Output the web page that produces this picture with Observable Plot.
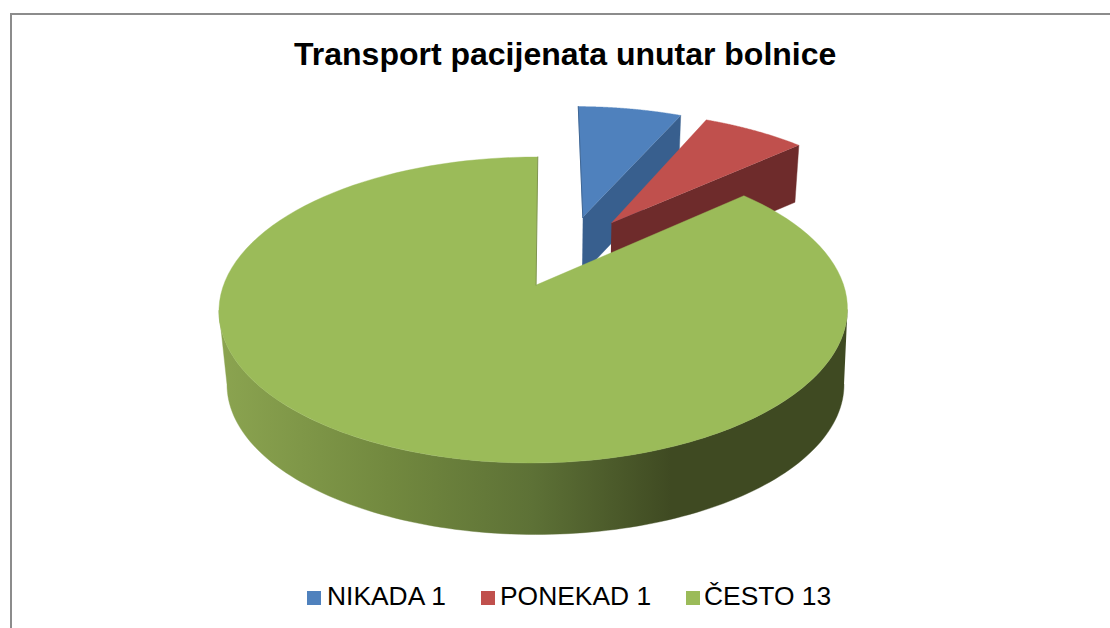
<!DOCTYPE html>
<html>
<head>
<meta charset="utf-8">
<script src="https://cdn.jsdelivr.net/npm/d3@7"></script>
<script src="https://cdn.jsdelivr.net/npm/@observablehq/plot@0.6"></script>
<style>
html,body{margin:0;padding:0;background:#fff;overflow:hidden}
#frame{position:absolute;left:10px;top:13px;width:1100px;height:615px;box-sizing:border-box;border-left:2px solid #8c8c8c;border-top:2px solid #8c8c8c;font-family:"Liberation Sans",Arial,sans-serif;color:#000}
#title{height:75px;box-sizing:border-box;padding-top:20px;padding-left:282px;font-size:32px;line-height:38px;font-weight:bold;white-space:nowrap}
#chart svg{display:block}
#legend{position:relative;height:50px;font-size:26.4px;line-height:30px;white-space:nowrap}
#legend span{position:absolute;top:6px}
#legend i{position:absolute;top:16px;width:14px;height:14px}
</style>
</head>
<body>
<div id="frame">
  <div id="title"></div>
  <div id="chart"></div>
  <div id="legend"></div>
</div>
<script>
const chartTitle = "Transport pacijenata unutar bolnice";
const categories = ["NIKADA", "PONEKAD", "ČESTO"];
const values = [1, 1, 13];
const topColors = ["#4f81bd", "#c0504d", "#9bbb59"];
const wallColors = ["#385f8e", "#6e2b2b"];
const legendSwatchX = [295, 469, 674];
const legendTextX = [315, 488, 692];

// camera of the 3-D pie
const cam = {x0: 535.5, y0: 284.5, R: 310, a: 148.9, s: 2, b: 0.163, d: 0.008, shrink: 0.015, depth: 57};
// lower rim of the large slice
const base = {cx: 535, cy: 384, rx: 308.5, ry: 150};
const explode = 0.26;
const center = [0.106, 0.237];
const project = (X, Y, Z = 0) => {
  const w = 1 + cam.b * Y + cam.d * X;
  const x = cam.x0 + (cam.R * X + cam.s * Y) / w;
  const y = cam.y0 - cam.a * Y / w;
  return {x: base.cx + (x - base.cx) * (1 - cam.shrink * Z), y: y + Z * cam.depth};
};

// slice angles (clockwise from the top) come from the values
const total = d3.sum(values);
let acc = 0;
const slices = values.map((v, i) => {
  const a0 = acc / total * 2 * Math.PI; acc += v;
  const a1 = acc / total * 2 * Math.PI;
  const mid = (a0 + a1) / 2;
  return {i, a0, a1, ox: center[0] + explode * Math.sin(mid), oy: center[1] + explode * Math.cos(mid)};
});
const rim = (s, t, Z = 0) => project(s.ox + Math.sin(t), s.oy + Math.cos(t), Z);
const apex = (s, Z = 0) => project(s.ox, s.oy, Z);
const sweep = (t0, t1, f) => d3.range(0, 121).map(k => f(t0 + (t1 - t0) * k / 120));
const topFace = s => [apex(s), ...sweep(s.a0, s.a1, t => rim(s, t))];
const edgeWall = (s, t) => [apex(s), rim(s, t), rim(s, t, 1), apex(s, 1)];
const [blue, red, green] = slices;
// the front wall runs between the two silhouette angles of the upper rim
const tR = Math.acos(-cam.b), tL = 2 * Math.PI - tR;
const greenFront = [
  ...sweep(tR, tL, t => rim(green, t)),
  ...sweep(1.5 * Math.PI, 0.5 * Math.PI, t => ({x: base.cx + base.rx * Math.sin(t), y: base.cy - base.ry * Math.cos(t)}))
];

const poly = (data, fill) => Plot.line(data, {x: "x", y: "y", fill, stroke: fill, strokeWidth: 0.4, curve: "linear"});

const plot = Plot.plot({
  width: 1098, height: 485,
  margin: 0,
  x: {domain: [12, 1110], range: [0, 1098], axis: null},
  y: {domain: [90, 575], range: [0, 485], axis: null},
  marks: [
    () => {
      const svg = d3.create("svg:defs");
      const g = svg.append("linearGradient").attr("id", "wall").attr("x1", 0).attr("x2", 1).attr("y1", 0).attr("y2", 0);
      [[0, "#8ba450"], [0.27, "#72893f"], [0.5, "#5d7136"], [0.72, "#3f4a22"], [1, "#3f4a22"]]
        .forEach(([o, c]) => g.append("stop").attr("offset", o).attr("stop-color", c));
      return svg.node();
    },
    poly(edgeWall(blue, blue.a1), wallColors[0]),
    poly(topFace(blue), topColors[0]),
    Plot.line([apex(blue), rim(blue, blue.a0)], {x: "x", y: "y", stroke: "#3f6694", strokeWidth: 1}),
    poly(edgeWall(red, red.a1), wallColors[1]),
    poly(topFace(red), topColors[1]),
    poly(greenFront, "url(#wall)"),
    poly(topFace(green), topColors[2]),
    Plot.line([apex(green), rim(green, 2 * Math.PI)], {x: "x", y: "y", stroke: "#7f9450", strokeWidth: 1})
  ]
});
document.getElementById("chart").append(plot);
document.getElementById("title").textContent = chartTitle;
const legend = document.getElementById("legend");
categories.forEach((c, i) => {
  const sw = document.createElement("i");
  sw.style.left = legendSwatchX[i] + "px";
  sw.style.background = topColors[i];
  const t = document.createElement("span");
  t.style.left = legendTextX[i] + "px";
  t.textContent = `${c} ${values[i]}`;
  legend.append(sw, t);
});
</script>
</body>
</html>
